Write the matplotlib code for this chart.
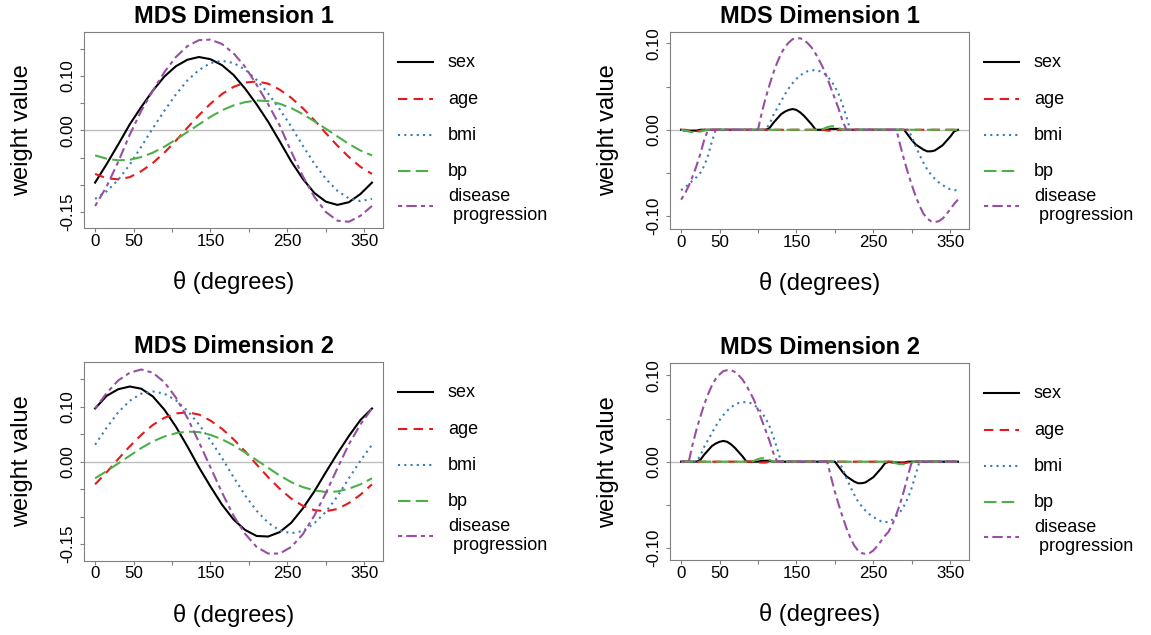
import numpy as np
import matplotlib
matplotlib.use("Agg")
import matplotlib.pyplot as plt

plt.rcParams["font.family"] = ["Liberation Sans", "DejaVu Sans"]

# angle grid for the smooth (left) panels
theta_deg = [0, 15, 30, 45, 60, 75, 90, 105, 120, 135, 150, 165, 180,
             195, 210, 225, 240, 255, 270, 285, 300, 315, 330, 345, 360]

# MDS dimension 1, full weights
dim1_sex = [-0.096, -0.062, -0.026, 0.011, 0.043, 0.073, 0.099, 0.118, 0.130, 0.135, 0.131, 0.120, 0.102,
            0.077, 0.048, 0.016, -0.020, -0.057, -0.089, -0.115, -0.131, -0.137, -0.132, -0.117, -0.096]
dim1_age = [-0.080, -0.088, -0.090, -0.086, -0.075, -0.060, -0.041, -0.019, 0.005, 0.028, 0.049, 0.067, 0.080,
            0.088, 0.090, 0.086, 0.075, 0.060, 0.041, 0.019, -0.005, -0.028, -0.049, -0.067, -0.080]
dim1_bmi = [-0.126, -0.112, -0.091, -0.063, -0.030, 0.004, 0.036, 0.066, 0.092, 0.111, 0.124, 0.128, 0.124,
            0.112, 0.093, 0.068, 0.039, 0.007, -0.028, -0.061, -0.089, -0.111, -0.125, -0.130, -0.126]
dim1_bp = [-0.046, -0.052, -0.055, -0.054, -0.049, -0.041, -0.030, -0.017, -0.003, 0.011, 0.025, 0.037, 0.046,
           0.052, 0.055, 0.054, 0.049, 0.041, 0.030, 0.017, 0.003, -0.011, -0.025, -0.037, -0.046]
dim1_dis = [-0.139, -0.103, -0.058, -0.008, 0.036, 0.073, 0.107, 0.135, 0.155, 0.166, 0.167, 0.159, 0.142,
            0.117, 0.084, 0.048, 0.009, -0.039, -0.084, -0.122, -0.150, -0.166, -0.168, -0.157, -0.139]

# MDS dimension 2, full weights
dim2_sex = [0.097, 0.120, 0.132, 0.137, 0.133, 0.119, 0.095, 0.064, 0.028, -0.010, -0.045, -0.078, -0.105,
            -0.124, -0.135, -0.136, -0.128, -0.111, -0.085, -0.054, -0.019, 0.015, 0.047, 0.076, 0.097]
dim2_age = [-0.041, -0.019, 0.005, 0.028, 0.049, 0.067, 0.080, 0.088, 0.090, 0.086, 0.075, 0.060, 0.041,
            0.019, -0.005, -0.028, -0.049, -0.067, -0.080, -0.088, -0.090, -0.086, -0.075, -0.060, -0.041]
dim2_bmi = [0.031, 0.062, 0.090, 0.111, 0.124, 0.128, 0.124, 0.112, 0.093, 0.068, 0.039, 0.007, -0.028,
            -0.061, -0.089, -0.111, -0.125, -0.130, -0.126, -0.112, -0.091, -0.063, -0.030, 0.002, 0.031]
dim2_bp = [-0.030, -0.017, -0.003, 0.011, 0.025, 0.037, 0.046, 0.052, 0.055, 0.054, 0.049, 0.041, 0.030,
           0.017, 0.003, -0.011, -0.025, -0.037, -0.046, -0.052, -0.055, -0.054, -0.049, -0.041, -0.030]
dim2_dis = [0.097, 0.125, 0.148, 0.162, 0.168, 0.162, 0.145, 0.117, 0.080, 0.036, -0.010, -0.056, -0.098,
            -0.131, -0.155, -0.167, -0.167, -0.155, -0.132, -0.098, -0.057, -0.012, 0.032, 0.068, 0.097]

# angle grid for the sparse (right) panels, 0..360 every 5 degrees
theta_sparse = np.arange(0, 365, 5)

# sparse weights, dimension 1 (rows: 0-55, 60-115, 120-175, 180-235, 240-295, 300-355, 360)
sp1_sex = [0, -0.001, -0.001, -0.001, -0.001, 0, 0, 0, 0, 0, 0, 0,
           0, 0, 0, 0, 0, 0, 0, 0, 0, 0, 0, 0.002,
           0.008, 0.013, 0.018, 0.021, 0.023, 0.024, 0.023, 0.020, 0.016, 0.011, 0.006, 0,
           0, 0, 0, 0.001, 0.001, 0.001, 0, 0, 0, 0, 0, 0,
           0, 0, 0, 0, 0, 0, 0, 0, 0, 0, 0, -0.006,
           -0.012, -0.017, -0.020, -0.023, -0.025, -0.025, -0.024, -0.021, -0.018, -0.013, -0.008, -0.002,
           0]
sp1_age = [0, 0, -0.001, -0.002, -0.002, -0.001, 0, 0, 0, 0, 0, 0,
           0, 0, 0, 0, 0, 0, 0, 0, 0, 0, 0, 0,
           0, 0, 0, 0, 0, 0, 0, 0, 0, 0, 0, 0,
           0, 0, -0.001, -0.001, -0.001, 0, 0, 0, 0, 0, 0, 0,
           0, 0, 0, 0, 0, 0, 0, 0, 0, 0, 0, 0,
           0, 0, 0, 0, 0, 0, 0, 0, 0, 0, 0, 0,
           0]
sp1_bmi = [-0.070, -0.067, -0.063, -0.059, -0.055, -0.050, -0.042, -0.030, -0.014, 0, 0, 0,
           0, 0, 0, 0, 0, 0, 0, 0, 0, 0, 0, 0.007,
           0.017, 0.025, 0.033, 0.041, 0.048, 0.054, 0.059, 0.063, 0.066, 0.068, 0.069, 0.069,
           0.068, 0.066, 0.062, 0.057, 0.050, 0.041, 0.029, 0.015, 0, 0, 0, 0,
           0, 0, 0, 0, 0, 0, 0, 0, 0, 0, 0, 0,
           -0.008, -0.019, -0.029, -0.038, -0.046, -0.052, -0.057, -0.061, -0.064, -0.067, -0.069, -0.070,
           -0.070]
sp1_bp = [0, -0.001, -0.002, -0.003, -0.003, -0.002, -0.001, 0, 0, 0, 0, 0,
          0, 0, 0, 0, 0, 0, 0, 0, 0, 0, 0, 0,
          0, 0, 0, 0, 0, 0, 0, 0, 0, 0, 0, 0,
          0, 0.001, 0.003, 0.004, 0.004, 0.002, 0, 0, 0, 0, 0, 0,
          0, 0, 0, 0, 0, 0, 0, 0, 0, 0, 0, 0,
          0, 0, 0, 0, 0, 0, 0, 0, 0, 0, 0, 0,
          0]
sp1_dis = [-0.081, -0.074, -0.065, -0.054, -0.042, -0.028, -0.012, 0, 0, 0, 0, 0,
           0, 0, 0, 0, 0, 0, 0, 0, 0, 0.020, 0.037, 0.052,
           0.066, 0.078, 0.088, 0.096, 0.101, 0.105, 0.106, 0.106, 0.104, 0.100, 0.095, 0.088,
           0.080, 0.071, 0.060, 0.048, 0.036, 0.024, 0.010, 0, 0, 0, 0, 0,
           0, 0, 0, 0, 0, 0, 0, 0, 0, -0.018, -0.035, -0.050,
           -0.064, -0.077, -0.088, -0.097, -0.103, -0.106, -0.107, -0.106, -0.103, -0.098, -0.092, -0.086,
           -0.081]

# sparse weights, dimension 2
sp2_sex = [0, 0, 0, 0, 0, 0.002, 0.008, 0.013, 0.018, 0.021, 0.023, 0.024,
           0.023, 0.020, 0.016, 0.011, 0.006, 0, 0, 0, 0, 0.001, 0.001, 0.001,
           0, 0, 0, 0, 0, 0, 0, 0, 0, 0, 0, 0,
           0, 0, 0, 0, 0, -0.006, -0.012, -0.017, -0.020, -0.023, -0.025, -0.025,
           -0.024, -0.021, -0.018, -0.013, -0.008, -0.002, 0, -0.001, -0.001, -0.001, -0.001, 0,
           0, 0, 0, 0, 0, 0, 0, 0, 0, 0, 0, 0,
           0]
sp2_age = [0, 0, 0, 0, 0, 0, 0, 0, 0, 0, 0, 0,
           0, 0, 0, 0, 0, 0, 0, 0, -0.001, -0.001, -0.001, 0,
           0, 0, 0, 0, 0, 0, 0, 0, 0, 0, 0, 0,
           0, 0, 0, 0, 0, 0, 0, 0, 0, 0, 0, 0,
           0, 0, 0, 0, 0, 0, 0, 0, -0.001, -0.002, -0.002, -0.001,
           0, 0, 0, 0, 0, 0, 0, 0, 0, 0, 0, 0,
           0]
sp2_bmi = [0, 0, 0, 0, 0, 0.007, 0.017, 0.025, 0.033, 0.041, 0.048, 0.054,
           0.059, 0.063, 0.066, 0.068, 0.069, 0.069, 0.068, 0.066, 0.062, 0.057, 0.050, 0.041,
           0.029, 0.015, 0, 0, 0, 0, 0, 0, 0, 0, 0, 0,
           0, 0, 0, 0, 0, 0, -0.008, -0.019, -0.029, -0.038, -0.046, -0.052,
           -0.057, -0.061, -0.064, -0.067, -0.069, -0.070, -0.070, -0.067, -0.063, -0.058, -0.051, -0.042,
           -0.030, -0.015, 0, 0, 0, 0, 0, 0, 0, 0, 0, 0,
           0]
sp2_bp = [0, 0, 0, 0, 0, 0, 0, 0, 0, 0, 0, 0,
          0, 0, 0, 0, 0, 0, 0, 0.001, 0.003, 0.004, 0.004, 0.002,
          0, 0, 0, 0, 0, 0, 0, 0, 0, 0, 0, 0,
          0, 0, 0, 0, 0, 0, 0, 0, 0, 0, 0, 0,
          0, 0, 0, 0, 0, 0, 0, -0.001, -0.002, -0.003, -0.003, -0.002,
          -0.001, 0, 0, 0, 0, 0, 0, 0, 0, 0, 0, 0,
          0]
sp2_dis = [0, 0, 0, 0.020, 0.037, 0.052, 0.066, 0.078, 0.088, 0.096, 0.101, 0.105,
           0.106, 0.106, 0.104, 0.100, 0.095, 0.088, 0.080, 0.071, 0.060, 0.048, 0.036, 0.024,
           0.010, 0, 0, 0, 0, 0, 0, 0, 0, 0, 0, 0,
           0, 0, 0, -0.018, -0.035, -0.050, -0.064, -0.077, -0.088, -0.097, -0.103, -0.106,
           -0.107, -0.106, -0.103, -0.098, -0.092, -0.086, -0.081, -0.072, -0.061, -0.048, -0.033, -0.016,
           0, 0, 0, 0, 0, 0, 0, 0, 0, 0, 0, 0,
           0]

labels = ["sex", "age", "bmi", "bp", "disease\n progression"]
colors = ["black", "#E41A1C", "#377EB8", "#4DAF4A", "#984EA3"]
dashes = [None, (4.5, 3), (1, 2), (6, 2.5), (2, 2, 5, 2)]

# legend row centres, in pixels below the top of the axes
legend_rows_px = [30, 67, 103, 139, 174]

fig = plt.figure(figsize=(11.51, 6.35), dpi=100)

full_ticks = [-0.15, -0.10, -0.05, 0.0, 0.05, 0.10, 0.15]
full_tlabs = ["-0.15", "", "", "0.00", "", "0.10", ""]
sparse_ticks = [-0.10, -0.05, 0.0, 0.05, 0.10]
sparse_tlabs = ["-0.10", "", "0.00", "", "0.10"]

panels = [
    ([0.0730, 0.6405, 0.2598, 0.3091], theta_deg,
     [dim1_sex, dim1_age, dim1_bmi, dim1_bp, dim1_dis], "MDS Dimension 1",
     (-0.180, 0.181), full_ticks, full_tlabs),
    ([0.5821, 0.6394, 0.2598, 0.3098], theta_sparse,
     [sp1_sex, sp1_age, sp1_bmi, sp1_bp, sp1_dis], "MDS Dimension 1",
     (-0.115, 0.113), sparse_ticks, sparse_tlabs),
    ([0.0730, 0.1170, 0.2598, 0.3124], theta_deg,
     [dim2_sex, dim2_age, dim2_bmi, dim2_bp, dim2_dis], "MDS Dimension 2",
     (-0.180, 0.181), full_ticks, full_tlabs),
    ([0.5821, 0.1181, 0.2598, 0.3098], theta_sparse,
     [sp2_sex, sp2_age, sp2_bmi, sp2_bp, sp2_dis], "MDS Dimension 2",
     (-0.114, 0.114), sparse_ticks, sparse_tlabs),
]

fig_h_px = 635
for pos, th, series, title, ylim, yticks, ytlabs in panels:
    ax = fig.add_axes(pos)
    ax.axhline(0, color="#bdbdbd", lw=1.0, zorder=1)
    for vals, col, ds, lab in zip(series, colors, dashes, labels):
        ln, = ax.plot(th, vals, color=col, lw=1.5, label=lab, zorder=2)
        if ds is not None:
            ln.set_dashes(ds)

    ax.set_xlim(-14.4, 374.4)
    ax.set_ylim(*ylim)
    ax.set_xticks(range(0, 351, 50))
    ax.set_xticklabels(["0", "50", "", "150", "", "250", "", "350"])
    ax.set_yticks(yticks)
    ax.set_yticklabels(ytlabs, rotation=90, va="center")

    ax.tick_params(direction="out", length=3, width=0.8, color="#808080", labelsize=12.2)
    ax.tick_params(axis="x", pad=1)
    ax.tick_params(axis="y", pad=3.4)
    for s in ax.spines.values():
        s.set_color("#808080")
        s.set_linewidth(0.8)

    ax.set_title(title, fontsize=17, fontweight="bold", pad=6.5)
    ax.set_xlabel("θ (degrees)", fontsize=17)
    ax.xaxis.set_label_coords(0.5, -0.22)
    ax.set_ylabel("weight value", fontsize=17)
    ax.yaxis.set_label_coords(-0.17, 0.5)

    # legend drawn by hand to the right of the axes (R-style spacing)
    ax_h_px = pos[3] * fig_h_px
    for row, col, ds, lab in zip(legend_rows_px, colors, dashes, labels):
        yf = 1 - row / ax_h_px
        hl, = ax.plot([1.050, 1.167], [yf, yf], transform=ax.transAxes,
                      color=col, lw=1.5, clip_on=False)
        if ds is not None:
            hl.set_dashes(ds)
        ax.text(1.217, yf, lab, transform=ax.transAxes, fontsize=13,
                ha="left", va="center", linespacing=1.15)

fig.savefig("out.png", dpi=100)
plt.close(fig)
